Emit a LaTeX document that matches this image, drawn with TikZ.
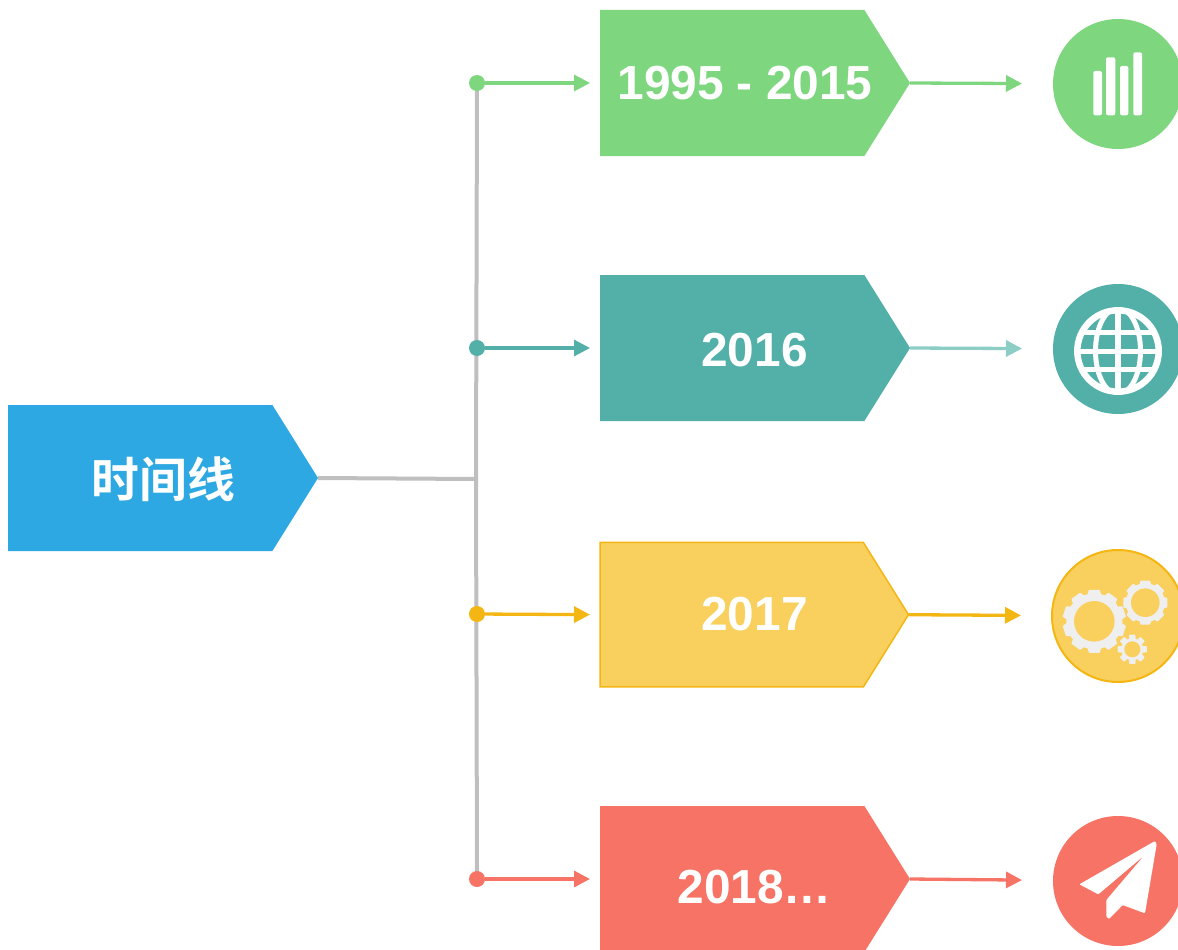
\documentclass[tikz,border=0pt]{standalone}
\usepackage{fontspec}
\setmainfont{Liberation Sans}
\newfontfamily\cjkbold[BoldFont=Noto Sans CJK SC Bold]{Noto Sans CJK SC}
\usetikzlibrary{arrows.meta,shapes.symbols,calc}
\definecolor{cgreen}{HTML}{7ED67F}
\definecolor{cteal}{HTML}{52B0A8}
\definecolor{cteallight}{HTML}{8CCDC6}
\definecolor{cyellow}{HTML}{F9D05E}
\definecolor{cgold}{HTML}{F3B612}
\definecolor{cred}{HTML}{F67365}
\definecolor{cblue}{HTML}{2EA8E2}
\definecolor{cgrey}{HTML}{BFBFBF}
\definecolor{cgear}{HTML}{EFEFEF}
\pgfdeclarelayer{back}
\pgfsetlayers{back,main}
\tikzset{
  tagbox/.style={shape=signal,signal to=east,signal pointer angle=116,minimum width=310pt,minimum height=146pt,inner sep=0pt,outer sep=0pt,fill=#1,anchor=west},
  tagtext/.style={text=white,font=\fontsize{47.8}{50}\selectfont\bfseries,inner sep=0pt},
  dotmark/.style={circle,fill=#1,minimum size=16pt,inner sep=0pt,outer sep=0pt},
  roundel/.style={circle,fill=#1,minimum size=130pt,inner sep=0pt,outer sep=0pt},
  toline/.style={draw=#1,line width=3.3pt,-{Triangle[length=16pt,width=16pt]},shorten >=10pt},
  outline/.style={draw=#1,line width=3.3pt,-{Triangle[length=16pt,width=16pt]},shorten >=31pt},
  spine/.style={draw=cgrey,line width=4pt},
}
\newcommand{\gearat}[7]{% cx cy rin rbody rtip n start
  \pgfmathsetmacro{\gstep}{360/#6}
  \fill[cgear] (#1,#2) circle[radius=#4];
  \foreach \gi in {1,...,#6}{
    \pgfmathsetmacro{\ga}{#7+\gi*\gstep}
    \fill[cgear,rounded corners=0.6pt] ($(#1,#2)+({\ga-0.42*\gstep}:{#4-1})$) -- ($(#1,#2)+({\ga-0.27*\gstep}:#5)$) -- ($(#1,#2)+({\ga+0.27*\gstep}:#5)$) -- ($(#1,#2)+({\ga+0.42*\gstep}:{#4-1})$) -- cycle;
  }
  \fill[cyellow] (#1,#2) circle[radius=#3];
}
\begin{document}
\begin{tikzpicture}[x=1pt,y=-1pt]
\useasboundingbox (0,0) rectangle (1178,950);
\node[tagbox=cblue] (y0) at (8,478) {};
\node[tagbox=cgreen] (y1) at (600,83) {};
\node[tagbox=cteal] (y2) at (600,348) {};
\node[tagbox=cyellow,draw=cgold,line width=1.5pt,minimum width=308.5pt,minimum height=144.5pt] (y3) at (600,614.7) {};
\node[tagbox=cred] (y4) at (600,879) {};
\node[tagtext] (t0) at (163.5,479) {\cjkbold\bfseries 时间线};
\node[tagtext] (t1) at (745,83) {1995 - 2015};
\node[tagtext] (t2) at (754.5,350) {2016};
\node[tagtext] (t3) at (754.5,614) {2017};
\node[tagtext] (t4) at (754.5,887) {2018…};
\node[dotmark=cgreen] (d1) at (477,83) {};
\node[dotmark=cteal] (d2) at (477,348) {};
\node[dotmark=cgold] (d3) at (477,614) {};
\node[dotmark=cred] (d4) at (477,879) {};
\node[roundel=cgreen] (c1) at (1118,84) {};
\node[roundel=cteal] (c2) at (1118,349) {};
\node[roundel=cyellow,draw=cgold,line width=2pt,minimum size=132pt] (c3) at (1118,616) {};
\node[roundel=cred] (c4) at (1118,881) {};
\coordinate (hub) at (476,479);
\begin{pgfonlayer}{back}
\draw[spine] (d1.center) -- (hub) -- (d4.center);
\draw[spine] (y0.east) -- (hub);
\end{pgfonlayer}
\draw[toline=cgreen] (d1) -- (y1.west);
\draw[toline=cteal] (d2) -- (y2.west);
\draw[toline=cgold] (d3) -- (y3.west);
\draw[toline=cred] (d4) -- (y4.west);
\draw[outline=cgreen] (y1.east) -- (c1);
\draw[outline=cteallight] (y2.east) -- (c2);
\draw[outline=cgold] (y3.east) -- (c3);
\draw[outline=cred] (y4.east) -- (c4);
% bars
\fill[white,rounded corners=2pt] (1093.3,71) rectangle (1102,115.3);
\fill[white,rounded corners=2pt] (1106,57.3) rectangle (1115.3,115.3);
\fill[white,rounded corners=2pt] (1120,66) rectangle (1128.3,115.3);
\fill[white,rounded corners=2pt] (1133.3,52.3) rectangle (1142,115.3);
% globe
\begin{scope}
\clip (1118,351) circle[radius=42];
\draw[white,line width=5pt] (1118,351) ellipse[x radius=22.5,y radius=43];
\draw[white,line width=5.5pt] (1118,300) -- (1118,400);
\draw[white,line width=5pt] (1070,332.7) -- (1166,332.7);
\draw[white,line width=5pt] (1070,351) -- (1166,351);
\draw[white,line width=5pt] (1070,369.3) -- (1166,369.3);
\end{scope}
\draw[white,line width=6.5pt] (1118,351) circle[radius=40.7];
% gears
\gearat{1094.3}{621.3}{20.3}{28}{32}{10}{90}
\gearat{1145.3}{602.7}{14.3}{19.5}{22.5}{8}{90}
\gearat{1132.3}{649.3}{8}{11}{15}{8}{90}
% plane
\begin{scope}[shift={(1040,805)},x=0.33333pt,y=-0.33333pt]
\fill[white,rounded corners=1pt] (118,238) -- (345,108) -- (350,118) -- (315,325) -- (248,300) -- (207,342) -- (199,335) -- (199,285) -- (312,152) -- (175,268) -- cycle;
\end{scope}
\end{tikzpicture}
\end{document}
